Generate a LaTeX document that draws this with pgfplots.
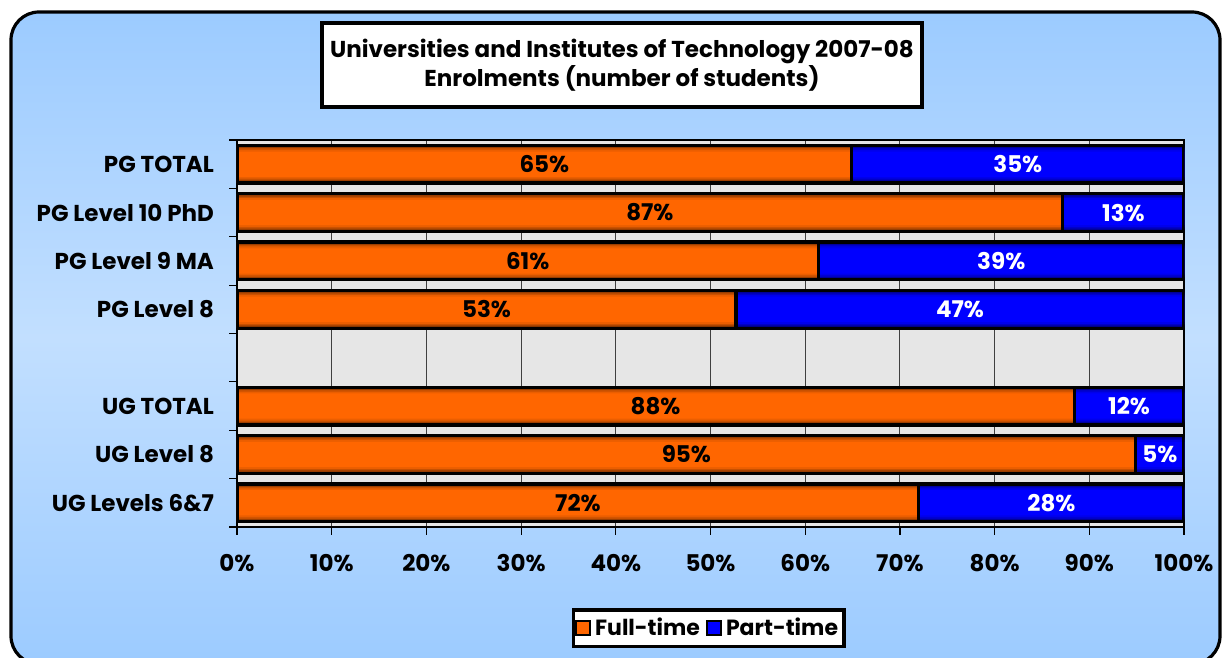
\documentclass[border=0pt]{standalone}
\usepackage{fontspec}
\setmainfont{Poppins}
\usepackage{pgfplots}
\usepackage{pgfplotstable}
\pgfplotsset{compat=1.18}
\definecolor{ftorange}{HTML}{FF6600}
\definecolor{ptblue}{HTML}{0000FF}
\definecolor{bgtop}{HTML}{9CCBFF}
\definecolor{bgmid}{HTML}{C2DFFF}
\definecolor{plotbg}{HTML}{E6E6E6}

\pgfplotstableread{
y ft pt
0 72.0 28.0
1 94.9 5.1
2 88.4 11.6
4 52.7 47.3
5 61.4 38.6
6 87.2 12.8
7 64.9 35.1
}\bardata

\pgfplotstableread{
x y lab
36.0 0 72
47.45 1 95
44.2 2 88
26.35 4 53
30.7 5 61
43.6 6 87
32.45 7 65
}\ftlab

\pgfplotstableread{
x y lab
86.0 0 28
97.45 1 5
94.2 2 12
76.35 4 47
80.7 5 39
93.6 6 13
82.45 7 35
}\ptlab

\newcommand{\lblfont}{\bfseries\fontsize{11.5}{13}\selectfont}

\pgfplotsset{
  frame/.style={at={(118.5pt,65.5pt)}, anchor=south west,
    scale only axis, width=473.5pt, height=193.5pt,
    xmin=0, xmax=100, ymin=-0.5, ymax=7.5},
  layer/.style={frame, hide axis, xbar stacked, bar width=#1},
}

% one shading layer: bar width, orange mix, blue mix
\newcommand{\barlayer}[3]{%
\begin{axis}[layer=#1]
\addplot[fill=ftorange!#2!black, draw=none] table[x=ft,y=y]{\bardata};
\addplot[fill=ptblue!#3!black, draw=none] table[x=pt,y=y]{\bardata};
\end{axis}}

\begin{document}
\begin{tikzpicture}
\path[use as bounding box] (0pt,0pt) rectangle (611.5pt,329pt);
\shade[top color=bgtop, bottom color=bgtop, middle color=bgmid]
  [rounded corners=14pt] (5.5pt,323pt) rectangle (610pt,-3pt);
\draw[black, line width=1.6pt, rounded corners=14pt] (5.5pt,323pt) rectangle (610pt,-3pt);

\begin{axis}[
  frame,
  xbar stacked, bar width=0.78,
  xtick={0,10,...,100},
  xticklabels={0\%,10\%,20\%,30\%,40\%,50\%,60\%,70\%,80\%,90\%,100\%},
  ytick={0,1,2,4,5,6,7},
  yticklabels={UG Levels 6\&7, UG Level 8, UG TOTAL, PG Level 8, PG Level 9 MA, PG Level 10 PhD, PG TOTAL},
  ytick style={draw=none},
  extra y ticks={-0.5,0.5,...,7.5},
  extra y tick labels={},
  extra y tick style={ytick style={draw=black, line width=0.6pt}, major tick length=4pt},
  tick pos=left, tick align=outside,
  xtick style={draw=black, line width=0.6pt}, major tick length=4pt,
  xmajorgrids, grid style={black!75, line width=0.5pt},
  axis background/.style={fill=plotbg},
  axis line style={black, line width=1pt},
  tick label style={font=\lblfont},
  yticklabel style={xshift=-4pt},
  xticklabel style={yshift=-6pt},
  legend style={at={(0.498,-0.262)}, anchor=center, draw=black, line width=1.6pt,
    fill=white, font=\bfseries\fontsize{11}{13}\selectfont, inner xsep=1pt, inner ysep=2pt,
    /tikz/every even column/.append style={column sep=1pt}},
  legend columns=2,
]
\addplot[fill=ftorange!40!black, draw=none, forget plot] table[x=ft,y=y]{\bardata};
\addplot[fill=ptblue!40!black, draw=none, forget plot] table[x=pt,y=y]{\bardata};
\addlegendimage{legend image code/.code={\draw[fill=ftorange, draw=black, line width=1pt] (0pt,-3.5pt) rectangle (7pt,3.5pt);}}
\addlegendentry{Full-time}
\addlegendimage{legend image code/.code={\draw[fill=ptblue, draw=black, line width=1pt] (0pt,-3.5pt) rectangle (7pt,3.5pt);}}
\addlegendentry{Part-time}
\end{axis}

\barlayer{0.72}{60}{60}
\barlayer{0.66}{78}{78}
\barlayer{0.60}{92}{92}
\barlayer{0.52}{100}{100}

\begin{axis}[layer=0.78]
\addplot[fill=none, draw=black, line width=1.6pt] table[x=ft,y=y]{\bardata};
\addplot[fill=none, draw=black, line width=1.6pt] table[x=pt,y=y]{\bardata};
\end{axis}

\begin{axis}[frame, hide axis]
\addplot[draw=none, nodes near coords={\pgfplotspointmeta\%}, point meta=explicit symbolic,
  every node near coord/.style={anchor=center, font=\lblfont, text=black}]
  table[x=x,y=y,meta=lab]{\ftlab};
\addplot[draw=none, nodes near coords={\pgfplotspointmeta\%}, point meta=explicit symbolic,
  every node near coord/.style={anchor=center, font=\lblfont, text=white}]
  table[x=x,y=y,meta=lab]{\ptlab};
\end{axis}

\node[draw=black, line width=1.6pt, fill=white, minimum width=300pt, minimum height=42pt,
  align=center, font=\lblfont, inner sep=0pt] at (311pt,296.5pt)
  {Universities and Institutes of Technology 2007-08\\Enrolments (number of students)};
\end{tikzpicture}
\end{document}
